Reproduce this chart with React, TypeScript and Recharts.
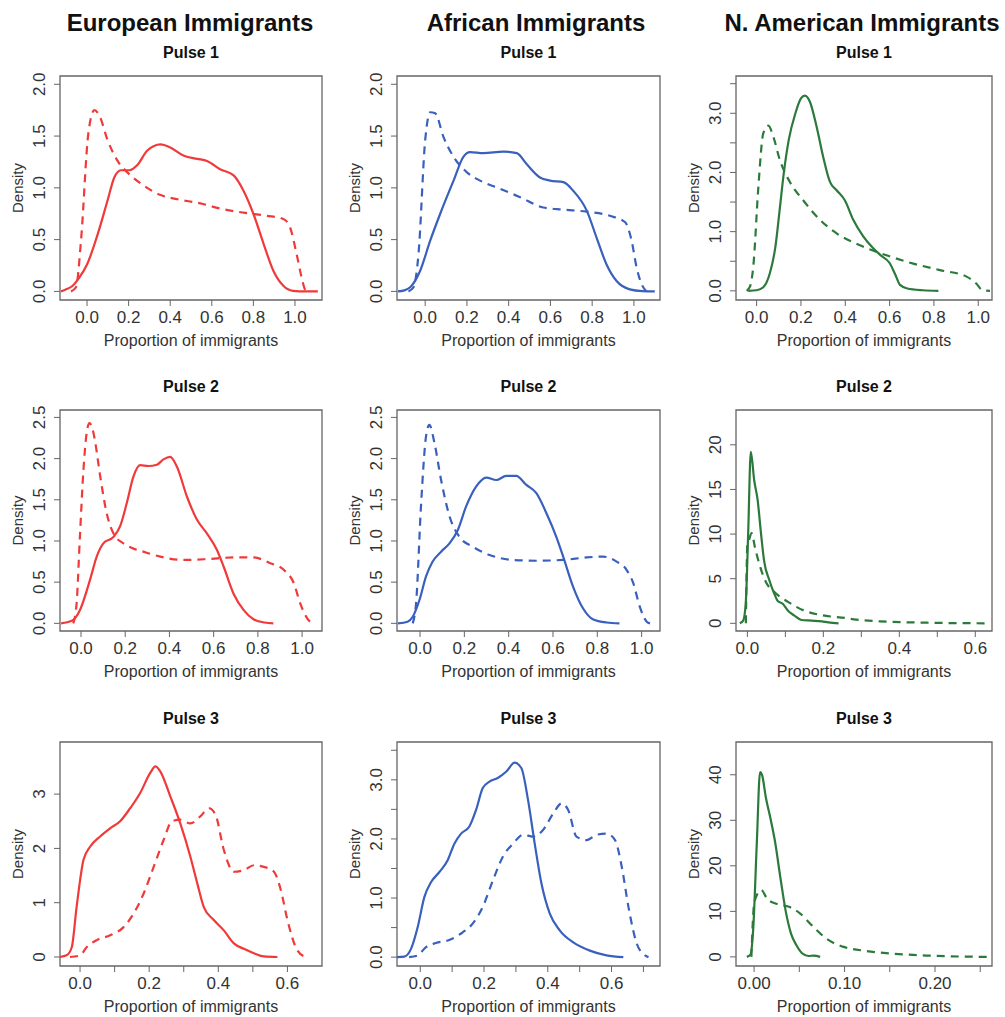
import React from 'react'
import { LineChart, Line, XAxis, YAxis, ReferenceArea, Label } from 'recharts'

type Pt = [number, number]

const RED = '#f03a3a'
const BLUE = '#3a60bd'
const GREEN = '#2b7a3b'
const FONT = '"Liberation Sans", Arial, Helvetica, sans-serif'

const columnTitles = ['European Immigrants', 'African Immigrants', 'N. American Immigrants']
const pulseTitles = ['Pulse 1', 'Pulse 2', 'Pulse 3']
const xAxisTitle = 'Proportion of immigrants'
const yAxisTitle = 'Density'

// tick sets
const ticksUnit = [0, 0.2, 0.4, 0.6, 0.8, 1.0]
const ticksTenths6 = [0, 0.1, 0.2, 0.3, 0.4, 0.5, 0.6]
const ticksTenths7 = [0, 0.1, 0.2, 0.3, 0.4, 0.5, 0.6, 0.7]
const labelsEven6 = [0, 0.2, 0.4, 0.6]
const ticksSmall = [0, 0.05, 0.1, 0.15, 0.2, 0.25]
const labelsSmall = [0, 0.1, 0.2]
const yTicks20 = [0, 0.5, 1, 1.5, 2]
const yTicks25 = [0, 0.5, 1, 1.5, 2, 2.5]
const yTicks35 = [0, 0.5, 1, 1.5, 2, 2.5, 3, 3.5]
const yLabels35 = [0, 1, 2, 3]
const yTicks3 = [0, 1, 2, 3]
const yTicks20n = [0, 5, 10, 15, 20]
const yTicks40 = [0, 10, 20, 30, 40]

// Pulse 1
const euroP1Solid: Pt[] = [[-0.125, 0], [-0.1, 0.02], [-0.069, 0.055], [-0.035, 0.14], [0, 0.26], [0.051, 0.55], [0.099, 0.88], [0.131, 1.1], [0.163, 1.17], [0.203, 1.17], [0.242, 1.22], [0.29, 1.36], [0.354, 1.42], [0.4, 1.39], [0.466, 1.31], [0.53, 1.28], [0.577, 1.26], [0.64, 1.18], [0.705, 1.12], [0.753, 0.97], [0.8, 0.75], [0.849, 0.46], [0.896, 0.2], [0.944, 0.055], [0.99, 0.006], [1.05, 0], [1.11, 0]]
const euroP1Dashed: Pt[] = [[-0.077, 0], [-0.053, 0.04], [-0.029, 0.49], [0.006, 1.52], [0.035, 1.75], [0.059, 1.7], [0.099, 1.46], [0.147, 1.26], [0.21, 1.12], [0.274, 1.02], [0.354, 0.93], [0.434, 0.89], [0.545, 0.85], [0.64, 0.8], [0.753, 0.76], [0.864, 0.73], [0.944, 0.7], [0.976, 0.62], [1.008, 0.36], [1.032, 0.135], [1.048, 0.02], [1.056, 0]]
const africaP1Solid: Pt[] = [[-0.13, 0], [-0.1, 0.01], [-0.072, 0.04], [-0.024, 0.2], [0.024, 0.49], [0.072, 0.75], [0.136, 1.07], [0.183, 1.3], [0.215, 1.345], [0.279, 1.335], [0.375, 1.35], [0.439, 1.335], [0.486, 1.23], [0.55, 1.1], [0.598, 1.07], [0.662, 1.055], [0.71, 0.97], [0.774, 0.78], [0.821, 0.52], [0.869, 0.26], [0.917, 0.1], [0.98, 0.02], [1.04, 0.003], [1.1, 0]]
const africaP1Dashed: Pt[] = [[-0.08, 0], [-0.056, 0.04], [-0.032, 0.36], [0, 1.46], [0.024, 1.73], [0.048, 1.72], [0.088, 1.49], [0.136, 1.3], [0.2, 1.15], [0.263, 1.07], [0.359, 0.99], [0.455, 0.91], [0.566, 0.81], [0.662, 0.79], [0.774, 0.77], [0.885, 0.73], [0.957, 0.67], [0.989, 0.49], [1.013, 0.23], [1.037, 0.07], [1.06, 0]]
const naP1Solid: Pt[] = [[-0.038, 0], [0, 0.01], [0.03, 0.06], [0.06, 0.3], [0.085, 0.75], [0.105, 1.4], [0.123, 2.0], [0.145, 2.55], [0.175, 3.0], [0.2, 3.25], [0.218, 3.3], [0.24, 3.2], [0.271, 2.77], [0.3, 2.27], [0.331, 1.84], [0.361, 1.7], [0.398, 1.53], [0.436, 1.2], [0.481, 0.92], [0.526, 0.72], [0.56, 0.6], [0.6, 0.47], [0.625, 0.28], [0.647, 0.1], [0.68, 0.04], [0.75, 0.01], [0.82, 0]]
const naP1Dashed: Pt[] = [[-0.045, 0], [-0.03, 0.07], [-0.015, 0.41], [0.008, 1.76], [0.03, 2.66], [0.053, 2.79], [0.075, 2.61], [0.105, 2.21], [0.15, 1.84], [0.21, 1.53], [0.286, 1.2], [0.361, 0.97], [0.466, 0.77], [0.586, 0.6], [0.707, 0.46], [0.827, 0.35], [0.947, 0.24], [0.992, 0.12], [1.02, 0.01], [1.053, 0]]

// Pulse 2
const euroP2Solid: Pt[] = [[-0.09, 0], [-0.042, 0.03], [-0.005, 0.16], [0.041, 0.53], [0.071, 0.81], [0.101, 0.97], [0.147, 1.05], [0.177, 1.18], [0.207, 1.46], [0.237, 1.78], [0.267, 1.92], [0.305, 1.91], [0.343, 1.925], [0.373, 1.99], [0.403, 2.02], [0.434, 1.9], [0.479, 1.54], [0.524, 1.26], [0.57, 1.09], [0.615, 0.89], [0.645, 0.69], [0.69, 0.36], [0.736, 0.16], [0.78, 0.05], [0.83, 0.01], [0.87, 0]]
const euroP2Dashed: Pt[] = [[-0.035, 0], [-0.02, 0.24], [-0.005, 1.05], [0.011, 1.86], [0.025, 2.3], [0.038, 2.43], [0.05, 2.38], [0.063, 2.22], [0.086, 1.8], [0.116, 1.34], [0.147, 1.09], [0.192, 0.97], [0.235, 0.91], [0.282, 0.87], [0.358, 0.81], [0.464, 0.77], [0.57, 0.78], [0.69, 0.8], [0.78, 0.8], [0.856, 0.73], [0.917, 0.65], [0.962, 0.49], [0.992, 0.24], [1.023, 0.06], [1.045, 0]]
const africaP2Solid: Pt[] = [[-0.1, 0], [-0.056, 0.02], [-0.033, 0.08], [-0.003, 0.28], [0.027, 0.57], [0.057, 0.75], [0.095, 0.87], [0.133, 0.97], [0.17, 1.13], [0.208, 1.42], [0.253, 1.66], [0.299, 1.77], [0.344, 1.74], [0.389, 1.79], [0.434, 1.79], [0.48, 1.68], [0.525, 1.58], [0.57, 1.34], [0.615, 1.05], [0.646, 0.81], [0.69, 0.45], [0.736, 0.18], [0.78, 0.05], [0.842, 0.01], [0.9, 0]]
const africaP2Dashed: Pt[] = [[-0.033, 0], [-0.018, 0.24], [0.005, 1.46], [0.027, 2.27], [0.042, 2.41], [0.065, 2.19], [0.095, 1.74], [0.133, 1.3], [0.178, 1.05], [0.238, 0.93], [0.314, 0.83], [0.419, 0.77], [0.525, 0.76], [0.646, 0.77], [0.751, 0.8], [0.827, 0.81], [0.887, 0.75], [0.932, 0.65], [0.962, 0.49], [0.992, 0.2], [1.023, 0.02], [1.038, 0]]
const naP2Solid: Pt[] = [[-0.02, 0], [-0.011, 0.3], [-0.004, 2.5], [0.002, 10], [0.009, 19.2], [0.018, 16], [0.027, 13.8], [0.036, 10], [0.044, 7], [0.058, 4.8], [0.071, 3.3], [0.08, 2.5], [0.093, 2.2], [0.107, 1.4], [0.124, 0.86], [0.142, 0.37], [0.169, 0.3], [0.196, 0.22], [0.213, 0.1], [0.24, 0]]
const naP2Dashed: Pt[] = [[-0.004, 0], [0, 8.9], [0.004, 9.3], [0.011, 10.1], [0.02, 8.5], [0.031, 6.7], [0.049, 4.6], [0.071, 3.5], [0.107, 2.4], [0.151, 1.4], [0.204, 0.86], [0.258, 0.6], [0.28, 0.45], [0.367, 0.19], [0.473, 0.07], [0.64, 0]]

// Pulse 3
const euroP3Solid: Pt[] = [[-0.058, 0], [-0.039, 0.03], [-0.024, 0.18], [-0.01, 0.92], [0.01, 1.79], [0.029, 2.03], [0.058, 2.22], [0.087, 2.37], [0.116, 2.5], [0.145, 2.74], [0.174, 3.02], [0.203, 3.39], [0.218, 3.51], [0.232, 3.42], [0.261, 2.96], [0.29, 2.46], [0.319, 1.85], [0.339, 1.36], [0.358, 0.92], [0.387, 0.68], [0.416, 0.49], [0.445, 0.25], [0.474, 0.15], [0.503, 0.07], [0.532, 0.01], [0.571, 0]]
const euroP3Dashed: Pt[] = [[-0.029, 0], [0, 0.03], [0.019, 0.18], [0.048, 0.31], [0.087, 0.4], [0.126, 0.55], [0.155, 0.8], [0.184, 1.17], [0.213, 1.66], [0.242, 2.16], [0.266, 2.5], [0.29, 2.53], [0.319, 2.46], [0.348, 2.59], [0.373, 2.74], [0.392, 2.62], [0.416, 1.97], [0.445, 1.57], [0.474, 1.6], [0.503, 1.69], [0.532, 1.66], [0.561, 1.57], [0.581, 1.23], [0.6, 0.68], [0.624, 0.18], [0.649, 0.01], [0.655, 0]]
const africaP3Solid: Pt[] = [[-0.073, 0], [-0.05, 0.01], [-0.029, 0.14], [-0.008, 0.51], [0.013, 1.02], [0.034, 1.27], [0.06, 1.44], [0.086, 1.64], [0.107, 1.92], [0.128, 2.09], [0.154, 2.21], [0.175, 2.49], [0.196, 2.86], [0.217, 2.97], [0.243, 3.03], [0.27, 3.14], [0.296, 3.29], [0.317, 3.2], [0.338, 2.66], [0.359, 1.92], [0.38, 1.25], [0.406, 0.74], [0.438, 0.45], [0.48, 0.25], [0.532, 0.11], [0.584, 0.03], [0.637, 0]]
const africaP3Dashed: Pt[] = [[-0.035, 0], [-0.008, 0.03], [0.018, 0.17], [0.049, 0.24], [0.091, 0.29], [0.133, 0.42], [0.165, 0.57], [0.196, 0.85], [0.228, 1.3], [0.259, 1.7], [0.291, 1.92], [0.322, 2.07], [0.354, 2.04], [0.385, 2.15], [0.417, 2.43], [0.443, 2.6], [0.464, 2.49], [0.49, 2.04], [0.522, 1.98], [0.553, 2.07], [0.585, 2.09], [0.611, 1.98], [0.632, 1.53], [0.653, 0.85], [0.679, 0.23], [0.705, 0.03], [0.716, 0]]
const naP3Solid: Pt[] = [[-0.008, 0], [-0.004, 0.5], [-0.001, 6], [0.003, 25], [0.0066, 40.6], [0.009, 39.8], [0.013, 35], [0.018, 30.5], [0.023, 25.5], [0.029, 17.5], [0.035, 10], [0.041, 5], [0.047, 2.5], [0.053, 0.8], [0.06, 0.2], [0.066, 0.3], [0.073, 0]]
const naP3Dashed: Pt[] = [[-0.003, 0], [0, 11.6], [0.0036, 13.8], [0.008, 14.7], [0.0146, 12.7], [0.0255, 11.6], [0.04, 10.9], [0.051, 9.5], [0.066, 6.5], [0.08, 4.0], [0.099, 2.2], [0.124, 1.3], [0.154, 0.7], [0.19, 0.3], [0.26, 0]]

// plot box placement, page pixels
const colLeft = [60, 397, 736]
const colWidth = [262, 263, 256]
const rowTop = [76, 410, 742]
const rowHeight = [224, 221, 224]

const toRows = (pts: Pt[]) => pts.map(([x, y]) => ({ x, y }))
const has = (list: number[], v: number) => list.some(l => Math.abs(l - v) < 1e-9)

interface PanelSpec {
  solid: Pt[]
  dashed: Pt[]
  color: string
  xDomain: [number, number]
  xTicks: number[]
  xLabeled: number[]
  xDigits: number
  yDomain: [number, number]
  yTicks: number[]
  yLabeled: number[]
  yDigits: number
}

const panels: PanelSpec[][] = [
  [
    { solid: euroP1Solid, dashed: euroP1Dashed, color: RED, xDomain: [-0.13, 1.13], xTicks: ticksUnit, xLabeled: ticksUnit, xDigits: 1, yDomain: [-0.083, 2.08], yTicks: yTicks20, yLabeled: yTicks20, yDigits: 1 },
    { solid: africaP1Solid, dashed: africaP1Dashed, color: BLUE, xDomain: [-0.135, 1.125], xTicks: ticksUnit, xLabeled: ticksUnit, xDigits: 1, yDomain: [-0.083, 2.08], yTicks: yTicks20, yLabeled: yTicks20, yDigits: 1 },
    { solid: naP1Solid, dashed: naP1Dashed, color: GREEN, xDomain: [-0.093, 1.062], xTicks: ticksUnit, xLabeled: ticksUnit, xDigits: 1, yDomain: [-0.155, 3.63], yTicks: yTicks35, yLabeled: yLabels35, yDigits: 1 },
  ],
  [
    { solid: euroP2Solid, dashed: euroP2Dashed, color: RED, xDomain: [-0.095, 1.09], xTicks: ticksUnit, xLabeled: ticksUnit, xDigits: 1, yDomain: [-0.093, 2.59], yTicks: yTicks25, yLabeled: yTicks25, yDigits: 1 },
    { solid: africaP2Solid, dashed: africaP2Dashed, color: BLUE, xDomain: [-0.104, 1.083], xTicks: ticksUnit, xLabeled: ticksUnit, xDigits: 1, yDomain: [-0.093, 2.59], yTicks: yTicks25, yLabeled: yTicks25, yDigits: 1 },
    { solid: naP2Solid, dashed: naP2Dashed, color: GREEN, xDomain: [-0.03, 0.644], xTicks: ticksTenths6, xLabeled: labelsEven6, xDigits: 1, yDomain: [-0.86, 23.9], yTicks: yTicks20n, yLabeled: yTicks20n, yDigits: 0 },
  ],
  [
    { solid: euroP3Solid, dashed: euroP3Dashed, color: RED, xDomain: [-0.058, 0.7], xTicks: ticksTenths6, xLabeled: labelsEven6, xDigits: 1, yDomain: [-0.166, 3.96], yTicks: yTicks3, yLabeled: yTicks3, yDigits: 0 },
    { solid: africaP3Solid, dashed: africaP3Dashed, color: BLUE, xDomain: [-0.073, 0.752], xTicks: ticksTenths7, xLabeled: labelsEven6, xDigits: 1, yDomain: [-0.15, 3.64], yTicks: yTicks35, yLabeled: yLabels35, yDigits: 1 },
    { solid: naP3Solid, dashed: naP3Dashed, color: GREEN, xDomain: [-0.02, 0.263], xTicks: ticksSmall, xLabeled: labelsSmall, xDigits: 2, yDomain: [-2.0, 47.2], yTicks: yTicks40, yLabeled: yTicks40, yDigits: 0 },
  ],
]

function Panel({ spec, left, top, width, height }: { spec: PanelSpec; left: number; top: number; width: number; height: number }) {
  const { solid, dashed, color, xDomain, xTicks, xLabeled, xDigits, yDomain, yTicks, yLabeled, yDigits } = spec
  const plotTop = 5
  const yMid = plotTop + height / 2

  return (
    <div style={{ position: 'absolute', left: left - 60, top: top - plotTop }}>
      <LineChart width={width + 70} height={height + plotTop + 55} margin={{ top: plotTop, right: 10, bottom: 0, left: 0 }}>
        <XAxis
          type="number"
          dataKey="x"
          domain={xDomain}
          ticks={xTicks}
          interval={0}
          allowDataOverflow
          axisLine={false}
          tickLine={{ stroke: '#666' }}
          tickSize={6}
          tickMargin={5}
          height={55}
          tick={(p: any) => (
            <text x={p.x} y={p.y} dy="0.71em" textAnchor="middle" fontSize={17} fontFamily={FONT} fill="#333">
              {has(xLabeled, p.payload.value) ? p.payload.value.toFixed(xDigits) : ''}
            </text>
          )}
        >
          <Label
            content={() => (
              <text x={60 + width / 2} y={plotTop + height + 40} textAnchor="middle" dominantBaseline="central" fontSize={16} fontFamily={FONT} fill="#333">
                {xAxisTitle}
              </text>
            )}
          />
        </XAxis>
        <YAxis
          type="number"
          domain={yDomain}
          ticks={yTicks}
          interval={0}
          allowDataOverflow
          axisLine={false}
          tickLine={{ stroke: '#666' }}
          tickSize={6}
          tickMargin={9}
          width={60}
          tick={(p: any) => (
            <text x={p.x} y={p.y} transform={`rotate(-90, ${p.x}, ${p.y})`} textAnchor="middle" fontSize={17} fontFamily={FONT} fill="#333">
              {has(yLabeled, p.payload.value) ? p.payload.value.toFixed(yDigits) : ''}
            </text>
          )}
        >
          <Label
            content={() => (
              <text x={17} y={yMid} transform={`rotate(-90, 17, ${yMid})`} textAnchor="middle" dominantBaseline="central" fontSize={15} fontFamily={FONT} fill="#333">
                {yAxisTitle}
              </text>
            )}
          />
        </YAxis>
        <ReferenceArea x1={xDomain[0]} x2={xDomain[1]} y1={yDomain[0]} y2={yDomain[1]} fill="none" stroke="#666" strokeWidth={1.3} ifOverflow="visible" />
        <Line data={toRows(solid)} dataKey="y" type="monotone" stroke={color} strokeWidth={2.2} dot={false} isAnimationActive={false} />
        <Line data={toRows(dashed)} dataKey="y" type="monotone" stroke={color} strokeWidth={2.2} strokeDasharray="8 6" dot={false} isAnimationActive={false} />
      </LineChart>
    </div>
  )
}

export default function App() {
  return (
    <div style={{ position: 'absolute', left: 0, top: 0, width: 1005, height: 1017, background: '#fff', fontFamily: FONT, overflow: 'hidden' }}>
      {columnTitles.map((t, c) => (
        <div key={t} style={{ position: 'absolute', left: [190, 536, 862][c] - 200, width: 400, top: 11, textAlign: 'center', fontSize: 24, lineHeight: '24px', fontWeight: 'bold', color: '#111' }}>
          {t}
        </div>
      ))}
      {rowTop.map((rt, r) =>
        colLeft.map((cl, c) => (
          <React.Fragment key={`${r}-${c}`}>
            <div style={{ position: 'absolute', left: cl + colWidth[c] / 2 - 100, width: 200, top: rt - 31, textAlign: 'center', fontSize: 16, lineHeight: '16px', fontWeight: 'bold', color: '#111' }}>
              {pulseTitles[r]}
            </div>
            <Panel spec={panels[r][c]} left={cl} top={rt} width={colWidth[c]} height={rowHeight[r]} />
          </React.Fragment>
        ))
      )}
    </div>
  )
}
